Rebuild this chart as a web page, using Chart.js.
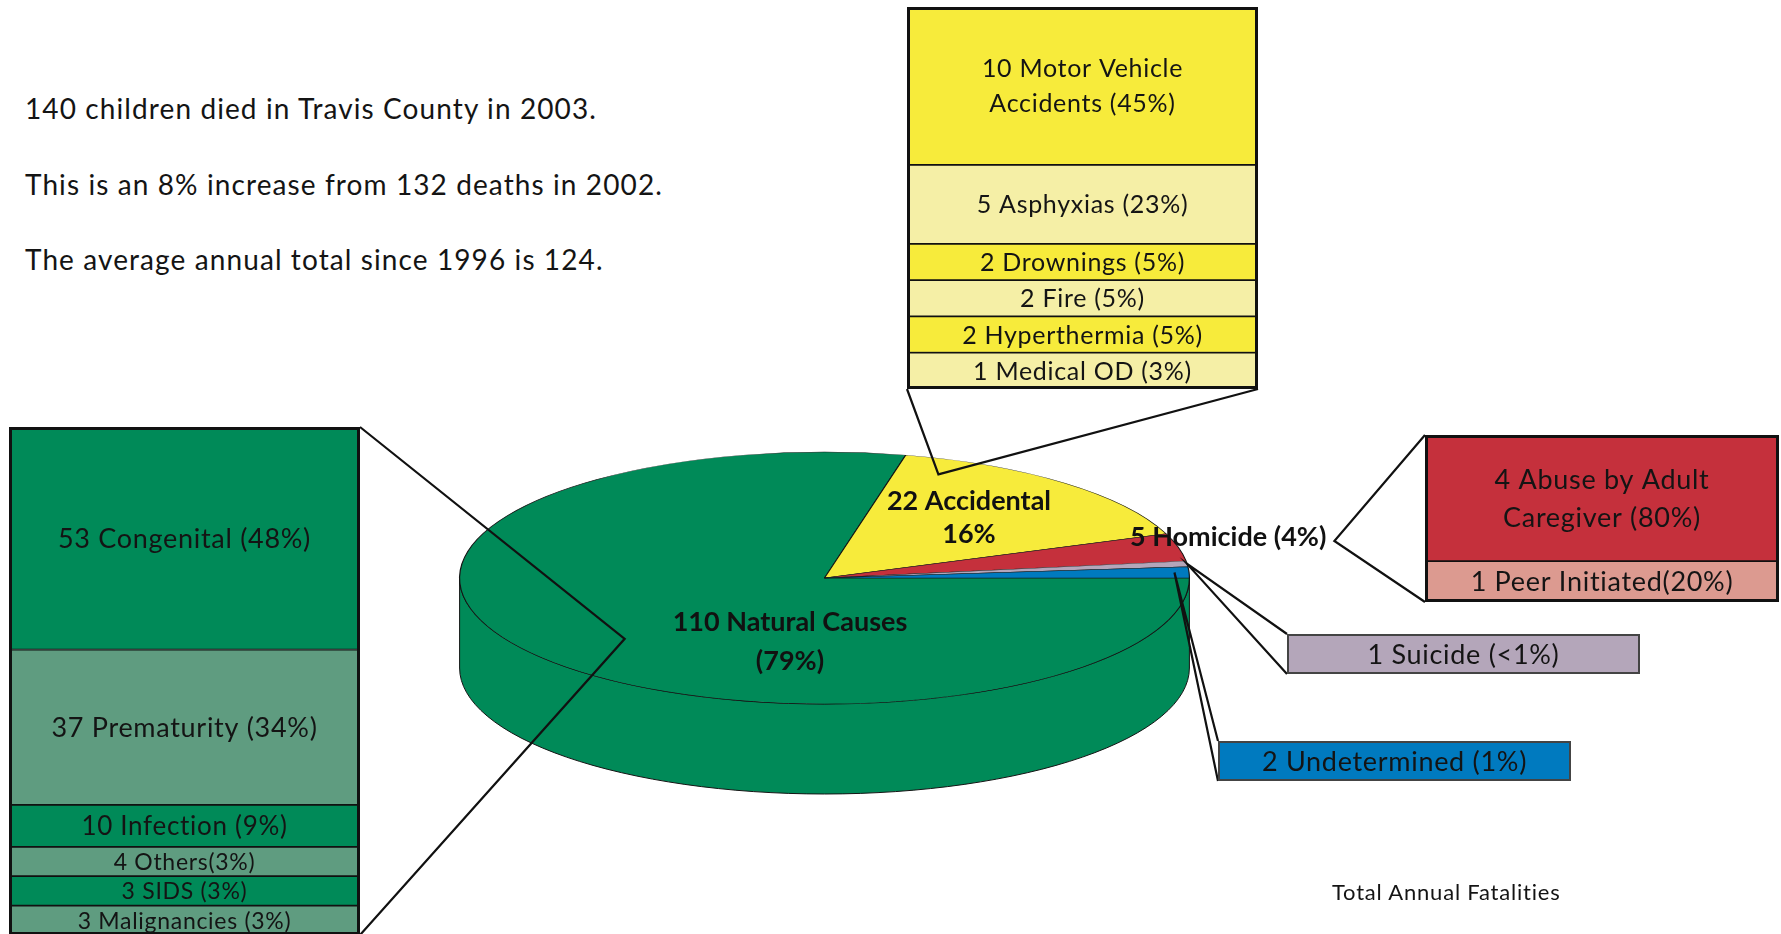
<!DOCTYPE html>
<html lang="en">
<head>
<meta charset="utf-8">
<title>Child Deaths in Travis County, 2003</title>
<script src="https://cdn.jsdelivr.net/npm/chart.js@4.4.1/dist/chart.umd.min.js"></script>
<style>
  html, body { margin: 0; padding: 0; background: #fff; }
  #page { position: relative; width: 1781px; height: 934px; overflow: hidden; font-family: Lato, "Open Sans", sans-serif; color: #141414; }
  .note { position: absolute; left: 25px; font-size: 28px; letter-spacing: 1.1px; line-height: 32px; white-space: nowrap; }
  #caption { position: absolute; left: 1332px; top: 879px; font-size: 22px; letter-spacing: 0.8px; line-height: 26px; white-space: nowrap; }
  canvas { position: absolute; display: block; }
</style>
</head>
<body>
<div id="page">
  <div class="note" style="top:92px">140 children died in Travis County in 2003.</div>
  <div class="note" style="top:168px">This is an 8% increase from 132 deaths in 2002.</div>
  <div class="note" style="top:243px">The average annual total since 1996 is 124.</div>
  <canvas id="pie" width="1781" height="934" style="left:0;top:0"></canvas>
  <canvas id="box-accident"></canvas>
  <canvas id="box-natural"></canvas>
  <canvas id="box-homicide"></canvas>
  <canvas id="box-suicide"></canvas>
  <canvas id="box-undetermined"></canvas>
  <div id="caption">Total Annual Fatalities</div>
</div>

<script>
// --- 1. Data ---
const causeLabels = ['Natural Causes', 'Accidental', 'Homicide', 'Suicide', 'Undetermined'];
const causeCounts = [110, 22, 5, 1, 2];
const causeColors = ['#008a58', '#f7eb3b', '#c5303c', '#b4a6ba', '#007abf'];
const pieText = [['110 Natural Causes', '(79%)'], ['22 Accidental', '16%'], ['5 Homicide (4%)'], [], []];

const accidentLabels = ['Motor Vehicle Accidents', 'Asphyxias', 'Drownings', 'Fire', 'Hyperthermia', 'Medical OD'];
const accidentCounts = [10, 5, 2, 2, 2, 1];
const accidentText = [['10 Motor Vehicle', 'Accidents (45%)'], ['5 Asphyxias (23%)'], ['2 Drownings (5%)'],
                      ['2 Fire (5%)'], ['2 Hyperthermia (5%)'], ['1 Medical OD (3%)']];

const naturalLabels = ['Congenital', 'Prematurity', 'Infection', 'Others', 'SIDS', 'Malignancies'];
const naturalCounts = [53, 37, 10, 4, 3, 3];
const naturalText = [['53 Congenital (48%)'], ['37 Prematurity (34%)'], ['10 Infection (9%)'],
                     ['4 Others(3%)'], ['3 SIDS (3%)'], ['3 Malignancies (3%)']];

const homicideLabels = ['Abuse by Adult Caregiver', 'Peer Initiated'];
const homicideCounts = [4, 1];
const homicideText = [['4 Abuse by Adult', 'Caregiver (80%)'], ['1 Peer Initiated(20%)']];

const suicideText = [['1 Suicide (<1%)']];
const undeterminedText = [['2 Undetermined (1%)']];

// --- 2. Layout (positions / sizes only) ---
const FONT = 'Lato, "Open Sans", sans-serif';
const PIE = { cx: 824.5, cy: 578, rx: 365.5, ry: 126, depth: 90 };
const BOXES = {
  accident:     { x: 907,  y: 7,   w: 351, h: 382 },
  natural:      { x: 9,    y: 427, w: 351, h: 508 },
  homicide:     { x: 1425, y: 435, w: 354, h: 167 },
  suicide:      { x: 1287, y: 634, w: 353, h: 40 },
  undetermined: { x: 1218, y: 741, w: 353, h: 40 }
};
const PIE_TEXT_POS = [
  { x: 790, y: 622, gap: 39, align: 'center' },
  { x: 969, y: 501, gap: 33, align: 'center' },
  { x: 1130, y: 537, gap: 0, align: 'left' }
];
const CONNECTORS = [
  { slice: 0, t: 0.49, r: 0.73, box: 'natural', side: 'right' },
  { slice: 1, t: 0.14, r: 0.88, box: 'accident', side: 'bottom' },
  { label: 2, box: 'homicide', side: 'left' },
  { slice: 3, t: 0.5, r: 1.0, box: 'suicide', side: 'left' },
  { slice: 4, t: 0.5, r: 0.96, box: 'undetermined', side: 'left' }
];

Chart.defaults.font.family = FONT;

// --- 3. Pie helpers ---
function piePoint(chart, i, t, rf) {
  const arc = chart.getDatasetMeta(0).data[i];
  const ang = arc.startAngle + t * (arc.endAngle - arc.startAngle);
  return {
    x: arc.x + Math.cos(ang) * arc.outerRadius * rf,
    y: PIE.cy + Math.sin(ang) * PIE.ry * rf
  };
}

function boxCorners(b, side) {
  if (side === 'right') return [[b.x + b.w, b.y], [b.x + b.w, b.y + b.h]];
  if (side === 'bottom') return [[b.x, b.y + b.h], [b.x + b.w, b.y + b.h]];
  return [[b.x, b.y], [b.x, b.y + b.h]];
}

// flatten the pie into an ellipse and draw the cylinder wall under it
const tiltPlugin = {
  id: 'tilt',
  beforeDatasetsDraw(chart) {
    const ctx = chart.ctx;
    const meta = chart.getDatasetMeta(0);
    const first = meta.data[0];
    const cx = first.x, R = first.outerRadius;
    const ry = PIE.ry;

    meta.data.forEach((arc, i) => {
      [0, Math.PI * 2].forEach(off => {
        const a = Math.max(arc.startAngle, off);
        const b = Math.min(arc.endAngle, off + Math.PI);
        if (b <= a) return;
        ctx.beginPath();
        ctx.ellipse(cx, PIE.cy, R, ry, 0, a, b);
        ctx.ellipse(cx, PIE.cy + PIE.depth, R, ry, 0, b, a, true);
        ctx.closePath();
        ctx.fillStyle = causeColors[i];
        ctx.fill();
        ctx.strokeStyle = '#141414';
        ctx.lineWidth = 1;
        ctx.stroke();
      });
    });

    ctx.save();
    ctx.translate(cx, PIE.cy);
    ctx.scale(1, ry / R);
    ctx.translate(-cx, -first.y);
  },
  afterDatasetsDraw(chart) {
    chart.ctx.restore();
  },
  afterDraw(chart) {
    const ctx = chart.ctx;
    ctx.save();
    ctx.fillStyle = '#111';
    ctx.textBaseline = 'middle';
    ctx.font = `bold 27px ${FONT}`;
    const labelEnds = [];
    PIE_TEXT_POS.forEach((p, i) => {
      ctx.textAlign = p.align;
      pieText[i].forEach((ln, j) => ctx.fillText(ln, p.x, p.y + j * p.gap));
      const w = ctx.measureText(pieText[i][0]).width;
      labelEnds[i] = { x: p.x + w + 8, y: p.y + 4 };
    });

    // connector lines to the breakout boxes
    ctx.strokeStyle = '#111';
    ctx.lineWidth = 2.2;
    ctx.lineJoin = 'miter';
    CONNECTORS.forEach(c => {
      const from = c.label !== undefined ? labelEnds[c.label] : piePoint(chart, c.slice, c.t, c.r);
      const [p1, p2] = boxCorners(BOXES[c.box], c.side);
      ctx.beginPath();
      ctx.moveTo(p1[0], p1[1]);
      ctx.lineTo(from.x, from.y);
      ctx.lineTo(p2[0], p2[1]);
      ctx.stroke();
    });
    ctx.restore();
  }
};

// --- 4. Main pie ---
function renderPie() {
  const W = 1781, H = 934;
  const side = PIE.rx * 2;
  new Chart(document.getElementById('pie'), {
    type: 'pie',
    data: {
      labels: causeLabels,
      datasets: [{
        data: causeCounts,
        backgroundColor: causeColors,
        borderColor: '#141414',
        borderWidth: 1.2,
        clip: false
      }]
    },
    options: {
      responsive: false,
      animation: false,
      rotation: 90,
      layout: { padding: { left: PIE.cx - PIE.rx, right: W - PIE.cx - PIE.rx, top: 0, bottom: H - side } },
      plugins: { legend: { display: false }, tooltip: { enabled: false } }
    },
    plugins: [tiltPlugin]
  });
}

// --- 5. Breakout boxes (stacked bars) ---
function boxTextPlugin(textLines, fontSizes, frame) {
  return {
    id: 'boxText',
    afterDatasetsDraw(chart) {
      const ctx = chart.ctx;
      ctx.save();
      ctx.fillStyle = '#141414';
      ctx.textAlign = 'center';
      ctx.textBaseline = 'middle';
      ctx.letterSpacing = '0.7px';
      chart.data.datasets.forEach((ds, i) => {
        const bar = chart.getDatasetMeta(i).data[0];
        const mid = (bar.y + bar.base) / 2 + 1;
        const lines = textLines[i];
        const size = fontSizes[i];
        ctx.font = `${size}px ${FONT}`;
        lines.forEach((ln, j) => ctx.fillText(ln, bar.x, mid + (j - (lines.length - 1) / 2) * size * 1.4));
      });
      ctx.strokeStyle = frame.color;
      ctx.lineWidth = frame.width;
      ctx.strokeRect(frame.width / 2, frame.width / 2, chart.width - frame.width, chart.height - frame.width);
      ctx.restore();
    }
  };
}

function makeBox(id, box, labels, counts, colors, textLines, fontSizes, minUnits, frame) {
  const canvas = document.getElementById(id);
  canvas.width = box.w;
  canvas.height = box.h;
  canvas.style.left = box.x + 'px';
  canvas.style.top = box.y + 'px';
  // small categories get a minimum row so their text fits (as in the original)
  const shown = counts.map(v => Math.max(v, minUnits));
  const total = shown.reduce((a, b) => a + b, 0);

  return new Chart(canvas, {
    type: 'bar',
    data: {
      labels: [''],
      datasets: labels.map((name, i) => ({
        label: name,
        data: [shown[i]],
        backgroundColor: colors[i],
        borderColor: frame.color,
        borderWidth: frame.inner,
        borderSkipped: false,
        barPercentage: 1,
        categoryPercentage: 1
      }))
    },
    options: {
      responsive: false,
      animation: false,
      layout: { padding: 0 },
      plugins: { legend: { display: false }, tooltip: { enabled: false } },
      scales: {
        x: { display: false, stacked: true },
        y: { display: false, stacked: true, reverse: true, min: 0, max: total }
      }
    },
    plugins: [boxTextPlugin(textLines, fontSizes, frame)]
  });
}

document.addEventListener('DOMContentLoaded', () => {
  renderPie();

  const yel = '#f7eb3b', paleYel = '#f5efa6';
  const grn = '#008a58', paleGrn = '#5f9c80';
  const red = '#c5303c', paleRed = '#dc9a90';
  const blackFrame = { color: '#111', width: 3, inner: 1.2 };
  const greyFrame = { color: '#444', width: 2, inner: 0 };

  makeBox('box-accident', BOXES.accident, accidentLabels, accidentCounts,
    [yel, paleYel, yel, paleYel, yel, paleYel], accidentText, [25, 25, 25, 25, 25, 25], 2.3, blackFrame);
  makeBox('box-natural', BOXES.natural, naturalLabels, naturalCounts,
    [grn, paleGrn, grn, paleGrn, grn, paleGrn], naturalText, [27, 27, 26, 23, 23, 23], 7, blackFrame);
  makeBox('box-homicide', BOXES.homicide, homicideLabels, homicideCounts,
    [red, paleRed], homicideText, [27, 27], 1.3, blackFrame);
  makeBox('box-suicide', BOXES.suicide, [causeLabels[3]], [causeCounts[3]],
    [causeColors[3]], suicideText, [27], 0, greyFrame);
  makeBox('box-undetermined', BOXES.undetermined, [causeLabels[4]], [causeCounts[4]],
    [causeColors[4]], undeterminedText, [27], 0, greyFrame);
});
</script>
</body>
</html>
